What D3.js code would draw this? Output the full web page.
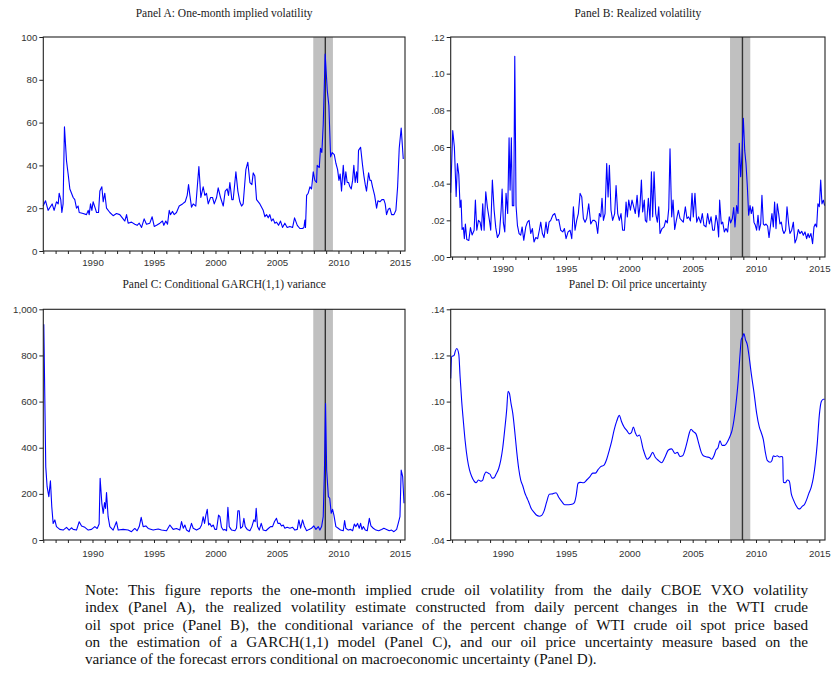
<!DOCTYPE html>
<html>
<head>
<meta charset="utf-8">
<script src="https://cdn.jsdelivr.net/npm/d3@7"></script>
<style>
  body { margin: 0; background: #fff; }
  svg { display: block; }
</style>
</head>
<body>
<svg width="832" height="673"></svg>
<script>
// ************** Data ***************************************

// Panel A: one-month implied volatility
const aYears = [1985.99,1986.18,1986.39,1986.72,1986.88,1987.07,1987.21,1987.29,1987.42,1987.51,
  1987.61,1987.72,1987.89,1988.02,1988.16,1988.43,1988.56,1988.70,1988.83,1988.92,
  1989.24,1989.51,1989.65,1989.73,1989.84,1989.95,1990.05,1990.22,1990.33,1990.49,
  1990.60,1990.76,1990.87,1991.00,1991.14,1991.41,1991.68,1991.95,1992.22,1992.49,
  1992.63,1992.77,1992.90,1993.17,1993.44,1993.63,1993.80,1993.99,1994.20,1994.39,
  1994.66,1994.85,1995.02,1995.21,1995.48,1995.69,1995.80,1995.96,1996.10,1996.24,
  1996.34,1996.51,1996.64,1996.83,1997.05,1997.32,1997.54,1997.70,1997.81,1997.92,
  1998.05,1998.19,1998.40,1998.65,1998.81,1999.00,1999.14,1999.27,1999.41,1999.60,
  1999.76,1999.90,2000.09,2000.22,2000.41,2000.63,2000.79,2000.95,2001.06,2001.17,
  2001.33,2001.44,2001.66,2001.82,2001.98,2002.12,2002.25,2002.47,2002.63,2002.80,
  2002.96,2003.07,2003.20,2003.34,2003.61,2003.88,2004.02,2004.15,2004.29,2004.42,
  2004.56,2004.69,2004.83,2004.96,2005.13,2005.29,2005.45,2005.64,2005.83,2006.05,
  2006.27,2006.43,2006.65,2006.86,2007.08,2007.19,2007.27,2007.32,2007.41,2007.54,
  2007.68,2007.81,2007.95,2008.08,2008.22,2008.27,2008.44,2008.54,2008.65,2008.76,
  2008.92,2009.09,2009.22,2009.36,2009.49,2009.66,2009.79,2009.93,2010.04,2010.14,
  2010.25,2010.39,2010.50,2010.60,2010.71,2010.82,2010.93,2011.04,2011.15,2011.25,
  2011.36,2011.47,2011.55,2011.63,2011.80,2011.96,2012.07,2012.18,2012.28,2012.45,
  2012.56,2012.66,2012.77,2012.94,2013.10,2013.21,2013.37,2013.53,2013.69,2013.80,
  2013.91,2014.05,2014.18,2014.32,2014.51,2014.67,2014.81,2014.94,2015.10,2015.27];
const aVals = [21,23.5,19,22,19,23,22,27,24,18,
  22,58,42,36,29,25,24,20,21,18,
  17.5,17,19,17,22,19,23,20,18,18,
  28,30,23,27,20,18,16.5,17.5,17,15,
  14,17,13,13.5,12.5,12,13,11,15,12.5,
  13,16,11.5,12,13,14,12,14,12.5,19,
  17,18.5,17,18,21,22,23,26,31,26,
  20.5,22,21,39.5,25,30,26,27,22,25,
  25,22,25,29.5,25,21,28,29,26,32,
  24,24,37,28,23,21,22,38,41.5,32,
  31,36.5,35,24,22,19,16,17,15.5,17,
  14,15,13,13.5,12,14,11,13,11,11.5,
  11,15.5,12,10.5,10.5,11,14.5,11,26,27,
  30,29,37,33,32,40,39,48,46,59,
  92,75,68,44,46,45,41,38,33,36,
  28,40,31,37,32,32,30,29,33,40,
  32,37,32,47,48.5,40,35,31,28,36.5,
  33,33,30,26,20,23.5,23,24,24,22,
  17,19.5,20,17,17,19,30,48,57.5,43];

// Panel B: realized volatility
const bYears = [1985.89,1986.05,1986.18,1986.32,1986.42,1986.53,1986.63,1986.71,1986.79,1986.89,
  1986.97,1987.05,1987.16,1987.32,1987.45,1987.58,1987.74,1987.84,1987.95,1988.08,
  1988.21,1988.32,1988.42,1988.53,1988.66,1988.79,1988.95,1989.05,1989.18,1989.32,
  1989.45,1989.58,1989.74,1989.87,1989.95,1990.05,1990.16,1990.26,1990.39,1990.50,
  1990.58,1990.68,1990.76,1990.87,1990.95,1991.05,1991.16,1991.29,1991.42,1991.53,
  1991.66,1991.82,1991.95,1992.08,1992.21,1992.34,1992.47,1992.61,1992.76,1992.89,
  1993.00,1993.13,1993.26,1993.42,1993.53,1993.66,1993.79,1993.95,1994.11,1994.26,
  1994.42,1994.58,1994.74,1994.87,1995.00,1995.16,1995.32,1995.45,1995.58,1995.71,
  1995.84,1995.97,1996.11,1996.24,1996.37,1996.50,1996.63,1996.79,1996.95,1997.11,
  1997.24,1997.37,1997.50,1997.63,1997.74,1997.84,1997.95,1998.08,1998.21,1998.32,
  1998.42,1998.55,1998.68,1998.84,1998.95,1999.08,1999.21,1999.34,1999.47,1999.61,
  1999.74,1999.84,1999.95,2000.08,2000.21,2000.32,2000.47,2000.61,2000.74,2000.84,
  2000.95,2001.05,2001.18,2001.26,2001.37,2001.50,2001.63,2001.74,2001.84,2001.95,
  2002.08,2002.21,2002.32,2002.42,2002.58,2002.74,2002.87,2003.00,2003.11,2003.21,
  2003.34,2003.45,2003.58,2003.71,2003.87,2004.00,2004.13,2004.26,2004.42,2004.55,
  2004.68,2004.82,2004.95,2005.05,2005.18,2005.32,2005.47,2005.63,2005.76,2005.89,
  2006.05,2006.18,2006.32,2006.45,2006.58,2006.71,2006.84,2006.95,2007.05,2007.13,
  2007.26,2007.37,2007.50,2007.63,2007.76,2007.89,2008.00,2008.13,2008.24,2008.34,
  2008.47,2008.58,2008.68,2008.79,2008.89,2009.00,2009.11,2009.21,2009.32,2009.42,
  2009.53,2009.63,2009.74,2009.84,2009.95,2010.05,2010.16,2010.26,2010.37,2010.47,
  2010.58,2010.68,2010.79,2010.92,2011.03,2011.16,2011.26,2011.37,2011.47,2011.58,
  2011.68,2011.79,2011.89,2012.00,2012.11,2012.21,2012.34,2012.45,2012.58,2012.68,
  2012.82,2012.95,2013.08,2013.21,2013.34,2013.47,2013.61,2013.74,2013.87,2014.00,
  2014.11,2014.21,2014.34,2014.47,2014.58,2014.68,2014.79,2014.89,2015.00,2015.11,
  2015.21,2015.32,2015.42];
const bVals = [.035,.069,.060,.033,.051,.045,.027,.031,.015,.016,
  .010,.018,.0095,.009,.016,.012,.0146,.031,.0146,.020,
  .019,.0146,.029,.0146,.0356,.027,.020,.0146,.042,.0255,
  .016,.0106,.0128,.0255,.037,.0186,.0137,.0347,.0237,.065,
  .0365,.065,.028,.028,.1095,.028,.0173,.0128,.0119,.0164,
  .0091,.0164,.019,.020,.0128,.0155,.0082,.0106,.010,.0146,
  .019,.0128,.0106,.019,.0128,.019,.020,.0228,.0237,.020,
  .0204,.0146,.0137,.0155,.010,.0137,.0146,.010,.0274,.0146,
  .020,.0237,.0347,.0328,.021,.019,.021,.029,.018,.020,
  .020,.019,.0128,.0237,.0219,.032,.020,.0237,.051,.0328,
  .050,.0255,.020,.0237,.039,.0237,.020,.0237,.0146,.0146,
  .030,.0219,.031,.0255,.031,.028,.0237,.0337,.0219,.028,
  .042,.0246,.031,.020,.019,.032,.020,.0465,.0219,.0465,
  .0237,.019,.0274,.0128,.0155,.0164,.020,.0186,.0264,.059,
  .0219,.031,.015,.020,.0255,.021,.020,.019,.0274,.021,
  .0219,.0197,.0347,.0219,.0347,.019,.0219,.0186,.0237,.0173,
  .0164,.0237,.018,.0219,.0146,.0146,.0228,.019,.011,.031,
  .018,.019,.0137,.0155,.0137,.0219,.0186,.021,.027,.0164,
  .028,.0237,.062,.0438,.0556,.0757,.058,.051,.038,.0228,
  .028,.0237,.0274,.019,.0173,.0146,.0228,.0146,.018,.0337,
  .018,.0173,.018,.0168,.0106,.018,.0237,.0164,.030,.0155,
  .029,.0237,.018,.019,.0146,.0128,.0146,.0274,.018,.0128,
  .0146,.019,.0077,.010,.015,.0128,.014,.0119,.0137,.010,
  .0128,.0106,.0128,.0073,.0164,.018,.0164,.029,.0274,.042,
  .029,.031,.028];

// Panel C: conditional GARCH(1,1) variance
const cYears = [1986.04,1986.20,1986.31,1986.45,1986.58,1986.69,1986.80,1986.94,1987.07,1987.34,
  1987.61,1987.89,1988.10,1988.29,1988.43,1988.70,1988.92,1989.11,1989.38,1989.65,
  1989.92,1990.19,1990.38,1990.54,1990.62,1990.76,1990.87,1990.98,1991.06,1991.14,
  1991.27,1991.41,1991.68,1991.95,1992.09,1992.49,1992.90,1993.17,1993.44,1993.63,
  1993.80,1993.96,1994.12,1994.34,1994.53,1994.93,1995.34,1995.61,1996.02,1996.29,
  1996.56,1996.83,
  1997.10,1997.24,1997.38,1997.51,1997.65,1997.86,1998.05,1998.19,1998.46,1998.73,
  1998.87,1999.00,1999.11,1999.22,1999.33,1999.44,1999.54,1999.68,1999.82,1999.95,
  2000.09,2000.25,2000.36,2000.49,2000.63,2000.76,2000.90,2001.01,2001.12,2001.31,
  2001.58,2001.71,2001.82,2001.93,2002.04,2002.20,2002.31,2002.42,2002.58,2002.80,
  2002.96,2003.12,2003.23,2003.31,2003.42,2003.56,2003.72,2003.88,2004.10,2004.32,
  2004.48,2004.64,2004.80,2004.96,2005.08,2005.24,2005.37,2005.51,2005.64,2005.83,
  2006.05,2006.27,2006.46,2006.65,2006.78,2006.92,2007.08,2007.22,2007.41,2007.62,
  2007.81,2008.00,2008.17,2008.36,2008.49,2008.63,2008.76,2008.86,2008.95,2009.04,
  2009.18,2009.29,2009.41,2009.52,2009.63,2009.79,2009.98,2010.17,2010.39,2010.50,
  2010.60,2010.80,2010.99,2011.15,2011.29,2011.42,2011.55,2011.69,2011.80,2011.91,
  2012.02,2012.18,2012.34,2012.51,2012.64,2012.83,2013.05,2013.27,2013.51,2013.69,
  2013.91,2014.13,2014.32,2014.51,2014.73,2014.86,2015.00,2015.10,2015.22,2015.33];
const cVals = [935,317,231,188,257,144,72,87,58,46,
  43,55,43,53,46,43,79,61,55,43,
  46,58,50,69,267,159,115,162,137,206,
  101,58,43,79,43,46,43,36,50,40,
  58,98,58,61,50,43,48,43,40,65,
  46,50,
  43,80,51,65,43,36,72,51,43,51,
  65,101,72,108,133,65,72,58,65,46,
  46,108,101,55,43,46,40,142,58,43,
  40,51,127,127,51,58,94,58,46,40,
  58,87,80,137,58,43,72,43,40,51,
  58,58,80,94,72,72,61,65,51,55,
  51,55,43,46,87,51,87,61,40,46,
  51,61,46,58,43,58,101,303,592,303,
  188,181,116,133,108,58,51,43,40,84,
  51,43,46,40,69,58,72,51,72,46,
  58,43,40,94,61,51,43,40,46,51,
  46,40,43,36,46,72,101,303,275,159];

// Panel D: oil price uncertainty
const dYears = [1985.89,1985.97,1986.16,1986.26,1986.37,1986.53,1986.63,1986.76,1986.89,1987.03,
  1987.21,1987.37,1987.55,1987.74,1987.89,1988.08,1988.26,1988.42,1988.53,1988.68,
  1988.84,1989.00,1989.16,1989.32,1989.47,1989.68,1989.84,1990.00,1990.16,1990.32,
  1990.42,1990.53,1990.66,1990.79,1990.95,1991.11,1991.26,1991.42,1991.58,1991.74,
  1991.89,1992.05,1992.26,1992.47,1992.68,1992.89,1993.08,1993.26,1993.47,1993.68,
  1993.95,1994.21,1994.42,1994.68,1994.89,1995.21,1995.53,1995.68,1995.79,1995.95,
  1996.11,1996.37,1996.63,1996.89,1997.11,1997.32,1997.53,1997.74,1998.00,1998.21,
  1998.42,1998.61,1998.79,1999.00,1999.21,1999.37,1999.58,1999.79,2000.00,2000.16,
  2000.32,2000.47,2000.63,2000.79,2001.11,2001.42,2001.63,2001.84,2002.03,2002.29,
  2002.55,2002.82,2003.08,2003.34,2003.61,2003.79,2004.00,2004.21,2004.39,2004.58,
  2004.74,2004.87,2005.05,2005.26,2005.47,2005.68,2005.84,2006.11,2006.32,2006.50,
  2006.68,2006.84,2007.00,2007.16,2007.32,2007.53,2007.74,2007.95,2008.11,2008.26,
  2008.42,2008.58,2008.74,2008.84,2008.95,2009.05,2009.16,2009.32,2009.47,2009.63,
  2009.84,2010.05,2010.26,2010.42,2010.58,2010.74,2010.89,2011.11,2011.26,2011.37,
  2011.53,2011.68,2011.84,2012.00,2012.11,2012.16,2012.32,2012.47,2012.63,2012.79,
  2012.95,2013.16,2013.32,2013.47,2013.63,2013.84,2014.00,2014.16,2014.37,2014.53,
  2014.68,2014.84,2015.00,2015.16,2015.32,2015.42];
const dVals = [.110,.1195,.120,.122,.123,.1205,.111,.100,.0915,.083,
  .075,.0705,.0675,.0655,.0648,.066,.0655,.066,.068,.0695,
  .069,.0685,.0668,.067,.0685,.071,.0745,.080,.088,.097,
  .1045,.1035,.099,.095,.087,.078,.071,.066,.0635,.0605,
  .0585,.0565,.0535,.052,.0507,.0503,.0507,.0525,.0565,.0598,
  .060,.0605,.0585,.0565,.0553,.0553,.0556,.0565,.059,.0646,
  .065,.0648,.066,.0675,.069,.069,.0705,.0718,.0725,.075,
  .079,.083,.0875,.0915,.094,.0915,.089,.0875,.086,.0865,
  .089,.0865,.085,.0855,.079,.075,.076,.078,.076,.0745,
  .0735,.076,.079,.0795,.0775,.078,.0762,.0765,.079,.083,
  .0865,.088,.087,.086,.082,.078,.0765,.076,.0758,.075,
  .0765,.079,.080,.083,.081,.081,.0825,.085,.0875,.092,
  .099,.108,.1205,.127,.128,.1295,.127,.1245,.119,.112,
  .104,.095,.089,.0865,.0835,.078,.0745,.0737,.0745,.0765,
  .0762,.0765,.076,.0762,.076,.065,.0648,.066,.0655,.060,
  .0575,.055,.0537,.0535,.0545,.0555,.0575,.060,.063,.067,
  .073,.082,.094,.100,.101,.101];

// y tick values for each panel
const aTicks = [0, 20, 40, 60, 80, 100];
const bTicks = [0, .02, .04, .06, .08, .10, .12];
const cTicks = [0, 200, 400, 600, 800, 1000];
const dTicks = [.04, .06, .08, .10, .12, .14];

// recession band and the dark vertical marker
const recession = [2007.95, 2009.55];
const marker = 2008.93;

const noteLines = [
  "Note: This figure reports the one-month implied crude oil volatility from the daily CBOE VXO volatility",
  "index (Panel A), the realized volatility estimate constructed from daily percent changes in the WTI crude",
  "oil spot price (Panel B), the conditional variance of the percent change of WTI crude oil spot price based",
  "on the estimation of a GARCH(1,1) model (Panel C), and our oil price uncertainty measure based on the",
  "variance of the forecast errors conditional on macroeconomic uncertainty (Panel D)."
];


// *************** Graph Setup *****************

let svg = d3.select("svg");

const decFmt = d => d3.format(".2f")(d).replace(/^0/, "");

const panels = [
  { title: "Panel A: One-month implied volatility", years: aYears, vals: aVals,
    left: 43.3, right: 405, top: 37, bottom: 251, xDom: [1986.0, 2015.41],
    yDom: [0, 100], ticks: aTicks, fmt: d3.format("d"), titleY: 17, labOff: 14.5 },
  { title: "Panel B: Realized volatility", years: bYears, vals: bVals,
    left: 450.7, right: 825, top: 37, bottom: 257, xDom: [1985.89, 2015.45],
    yDom: [0, .12], ticks: bTicks, fmt: decFmt, titleY: 17, labOff: 14.5 },
  { title: "Panel C: Conditional GARCH(1,1) variance", years: cYears, vals: cVals,
    left: 43.3, right: 405, top: 309.3, bottom: 540, xDom: [1986.0, 2015.41],
    yDom: [0, 1000], ticks: cTicks, fmt: d3.format(","), titleY: 288, labOff: 16.5 },
  { title: "Panel D: Oil price uncertainty", years: dYears, vals: dVals,
    left: 450.7, right: 825, top: 309.3, bottom: 540, xDom: [1985.89, 2015.45],
    yDom: [.04, .14], ticks: dTicks, fmt: decFmt, titleY: 288, labOff: 16.5, smooth: true }
];

panels.forEach(function (p) {
  let x = d3.scaleLinear().domain(p.xDom).range([p.left, p.right]);
  let y = d3.scaleLinear().domain(p.yDom).range([p.bottom, p.top]);
  let g = svg.append("g");

  // shaded recession + marker line
  g.append("rect")
    .attr("x", x(recession[0]))
    .attr("y", p.top)
    .attr("width", x(recession[1]) - x(recession[0]))
    .attr("height", p.bottom - p.top)
    .attr("fill", "#c0c0c0");
  g.append("line")
    .attr("x1", x(marker)).attr("x2", x(marker))
    .attr("y1", p.top).attr("y2", p.bottom)
    .attr("stroke", "#333").attr("stroke-width", 1.4);

  // series
  let pts = p.years.map((yr, i) => [yr, p.vals[i]]);
  let line = d3.line()
    .x(d => x(d[0]))
    .y(d => y(d[1]))
    .curve(p.smooth ? d3.curveMonotoneX : d3.curveLinear);
  g.append("path")
    .datum(pts)
    .attr("fill", "none")
    .attr("stroke", "#0000ff")
    .attr("stroke-width", 1.1)
    .attr("stroke-linejoin", "round")
    .attr("d", line);

  // frame
  g.append("rect")
    .attr("x", p.left).attr("y", p.top)
    .attr("width", p.right - p.left).attr("height", p.bottom - p.top)
    .attr("fill", "none").attr("stroke", "#222").attr("stroke-width", 1.1);

  // axes
  let yAxis = g.append("g")
    .attr("transform", "translate(" + p.left + ",0)")
    .call(d3.axisLeft(y).tickValues(p.ticks).tickFormat(p.fmt).tickSize(4).tickPadding(2));

  let xAxis = g.append("g")
    .attr("transform", "translate(0," + p.bottom + ")")
    .call(d3.axisBottom(x)
      .tickValues(d3.range(1986, 2016))
      .tickFormat(d => d % 5 === 0 ? d : "")
      .tickSize(3));
  xAxis.selectAll("text").attr("y", p.labOff).attr("dy", 0);

  [yAxis, xAxis].forEach(function (ax) {
    ax.select(".domain").remove();
    ax.selectAll("line").attr("stroke", "#222");
    ax.selectAll("text")
      .attr("fill", "#333")
      .style("font-family", "'Liberation Sans', Arial, sans-serif")
      .style("font-size", "9.7px");
  });

  svg.append("text")
    .attr("x", (p.left + p.right) / 2)
    .attr("y", p.titleY)
    .attr("text-anchor", "middle")
    .style("font-family", "'Liberation Serif', 'Times New Roman', serif")
    .style("font-size", "11.5px")
    .attr("fill", "#222")
    .text(p.title);
});

// note under the panels; all but the last line are justified by widening word gaps
const noteWidth = 723;
svg.selectAll(".note")
  .data(noteLines)
  .enter().append("text")
  .attr("class", "note")
  .attr("x", 85)
  .attr("y", (d, i) => 595 + i * 17.3)
  .style("font-family", "'Liberation Serif', 'Times New Roman', serif")
  .style("font-size", "15.2px")
  .attr("fill", "#111")
  .text(d => d)
  .each(function (d, i) {
    if (i === noteLines.length - 1) return;
    let gaps = d.split(" ").length - 1;
    let extra = (noteWidth - this.getComputedTextLength()) / gaps;
    d3.select(this).style("word-spacing", extra + "px");
  });
</script>
</body>
</html>
